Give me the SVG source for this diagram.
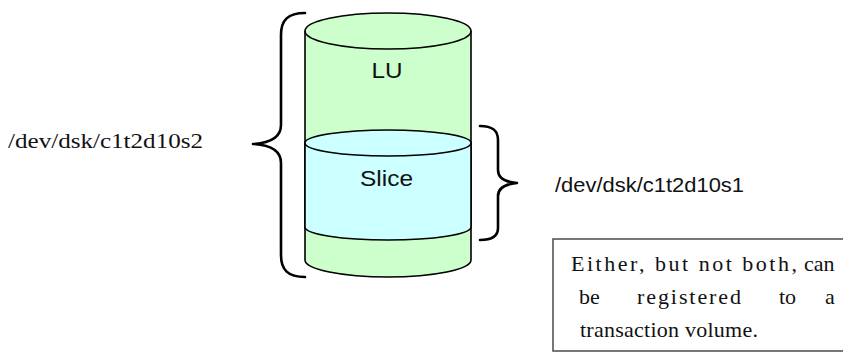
<svg xmlns="http://www.w3.org/2000/svg" width="843" height="352" viewBox="0 0 843 352">
<style>
.edge{fill:none;stroke:#000;stroke-width:1.6}
.brace{fill:none;stroke:#000;stroke-width:2.6;stroke-linecap:round;stroke-linejoin:round}
.green{fill:#CCFFCC}
.cyan{fill:#CCFFFF}
.sans{font-family:"Liberation Sans",Arial,sans-serif;fill:#111}
.serif{font-family:"Liberation Serif","Times New Roman",serif;fill:#111}
</style>
<rect width="843" height="352" fill="#fff"/>
<g id="lu">
<path class="green" d="M305,31 L305,260 A83,17 0 0 0 471,260 L471,31 Z"/>
<path class="edge" d="M305,31 L305,260 A83,17 0 0 0 471,260 L471,31"/>
<ellipse class="edge" cx="388" cy="31" rx="83" ry="18" style="fill:#CCFFCC"/>
<text class="sans" x="387" y="78" font-size="22" text-anchor="middle" textLength="31" lengthAdjust="spacingAndGlyphs">LU</text>
</g>
<g id="slice">
<path class="cyan" d="M305,143 L305,227 A83,13 0 0 0 471,227 L471,143 Z"/>
<path class="edge" d="M305,227 A83,13 0 0 0 471,227"/>
<ellipse class="edge" cx="388" cy="143" rx="83" ry="13" style="fill:#CCFFFF"/>
<path class="edge" d="M305,143 L305,227 M471,143 L471,227"/>
<text class="sans" x="386.5" y="186" font-size="22" text-anchor="middle" textLength="53" lengthAdjust="spacingAndGlyphs">Slice</text>
</g>
<g id="connectors">
<path class="brace" d="M305,13 C288,13 281,20 281,35 L281,125 C281,137 270,143 253,144 C270,145 281,151 281,163 L281,255 C281,270 288,277 305,277"/>
<path class="brace" d="M480,126 C492,126 498,130 498,140 L498,170 C498,178 505,182 517,183 C505,184 498,188 498,196 L498,228 C498,236 492,240 480,240"/>
</g>
<g id="label-s2">
<text class="serif" x="8" y="148" font-size="21" textLength="195" lengthAdjust="spacingAndGlyphs">/dev/dsk/c1t2d10s2</text>
</g>
<g id="label-s1">
<text class="sans" x="555" y="192" font-size="20" textLength="189" lengthAdjust="spacingAndGlyphs">/dev/dsk/c1t2d10s1</text>
</g>
<g id="note">
<rect x="553" y="239" width="295" height="112" fill="#fff" stroke="#555" stroke-width="1.6"/>
<text class="serif" font-size="22">
<tspan x="571" y="271" textLength="226" lengthAdjust="spacing">Either, but not both,</tspan>
<tspan x="804" y="271">can</tspan>
<tspan x="579" y="304">be</tspan>
<tspan x="637" y="304" textLength="104" lengthAdjust="spacing">registered</tspan>
<tspan x="779" y="304">to</tspan>
<tspan x="825" y="304">a</tspan>
<tspan x="580" y="337" textLength="178" lengthAdjust="spacing">transaction volume.</tspan>
</text>
</g>
</svg>
